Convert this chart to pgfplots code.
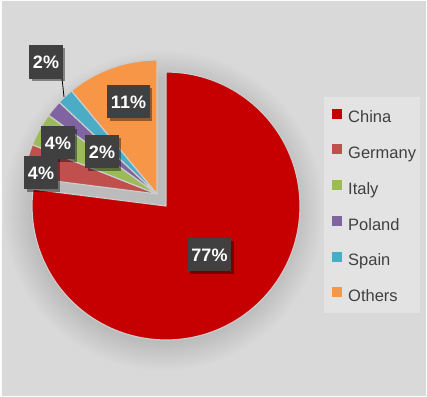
\documentclass[border=0pt]{standalone}
\usepackage{pgfplots}
\pgfplotsset{compat=1.18}
\usepackage{pgfplotstable}
\usepackage{fontspec}
\setmainfont{Liberation Sans}
\usetikzlibrary{shadows,patterns}
\definecolor{bgc}{HTML}{D9D9D9}
\definecolor{legbg}{HTML}{E3E3E3}
\definecolor{shd}{HTML}{BBBBBB}
\definecolor{chinacol}{HTML}{C60000}
\definecolor{germanycol}{HTML}{C0504D}
\definecolor{italycol}{HTML}{9BBB59}
\definecolor{polandcol}{HTML}{8064A2}
\definecolor{spaincol}{HTML}{4BACC6}
\definecolor{otherscol}{HTML}{F79646}
\definecolor{sepcol}{HTML}{CCCCCC}
\definecolor{labbg}{HTML}{404040}
\definecolor{txt}{HTML}{404040}
\pgfdeclareradialshading{pieshadow}{\pgfpoint{0bp}{0bp}}{color(0bp)=(shd);color(20.3bp)=(shd);color(25bp)=(bgc)}
% name  percent  start(cumulative)
\pgfplotstableread{
name    pct start
China   77  0
Germany 4   77
Italy   4   81
Poland  2   85
Spain   2   87
Others  11  89
}\piedata
% cx cy r start pct colour
\newcommand{\pieslice}[6]{%
  \fill[#6,draw=sepcol,line width=1.2bp,line join=round] (axis cs:#1,#2) -- ++({90-3.6*(#4)}:#3bp) arc[start angle={90-3.6*(#4)}, end angle={90-3.6*(#4+#5)}, radius=#3bp] -- cycle;}
\tikzset{lab/.style={fill=labbg,text=white,font=\bfseries\fontsize{18bp}{18bp}\selectfont,
  text height=13bp,text depth=0bp,inner ysep=10bp,inner xsep=3.5bp,
  drop shadow={shadow xshift=2.5bp,shadow yshift=-2.5bp,opacity=0.4,fill=black}}}
\begin{document}
\begin{tikzpicture}
\begin{axis}[
  width=427bp,height=397bp,scale only axis,
  xmin=0,xmax=427,ymin=0,ymax=397,y dir=reverse,
  hide axis,clip=false,
  legend cell align=left,
  legend image code/.code={\fill[#1,draw=none] (0bp,-1bp) rectangle (10bp,9bp);},
  legend style={draw=none,fill=none,at={(axis cs:332,108.5)},anchor=north west,
    inner sep=0pt,row sep=18bp,
    font=\fontsize{16.5bp}{16.5bp}\selectfont\color{txt},
    /tikz/every even column/.append style={text height=12bp,text depth=4bp},
    /tikz/every odd column/.append style={column sep=4bp}},
]
\fill[bgc] (axis cs:0,0) rectangle (axis cs:427,397);
\shade[shading=pieshadow] (axis cs:163,210) circle[radius=161bp];
\fill[legbg] (axis cs:324,97) rectangle (axis cs:420,313);
\draw[white!92!bgc,line width=1.5bp] (axis cs:0.75,0.75) rectangle (axis cs:426.25,396.25);
\pieslice{166}{206}{134}{0}{77}{chinacol}
\pieslice{157}{194}{134}{77}{4}{germanycol}
\pieslice{157}{194}{134}{81}{4}{italycol}
\pieslice{157}{194}{134}{85}{2}{polandcol}
\pieslice{157}{194}{134}{87}{2}{spaincol}
\pieslice{157}{194}{134}{89}{11}{otherscol}
\addlegendimage{fill=chinacol}\addlegendentry{China}
\addlegendimage{fill=germanycol}\addlegendentry{Germany}
\addlegendimage{fill=italycol}\addlegendentry{Italy}
\addlegendimage{fill=polandcol}\addlegendentry{Poland}
\addlegendimage{fill=spaincol}\addlegendentry{Spain}
\addlegendimage{fill=otherscol}\addlegendentry{Others}
\draw[black,line width=0.8bp] (axis cs:62,78) -- (axis cs:64,97);
\node[lab] at (axis cs:209.5,254.5) {77\%};
\node[lab] at (axis cs:128.5,101.5) {11\%};
\node[lab] at (axis cs:46,62) {2\%};
\node[lab] at (axis cs:58,142.5) {4\%};
\node[lab] at (axis cs:102,151.5) {2\%};
\node[lab] at (axis cs:41,172.5) {4\%};
\end{axis}
\end{tikzpicture}
\end{document}
